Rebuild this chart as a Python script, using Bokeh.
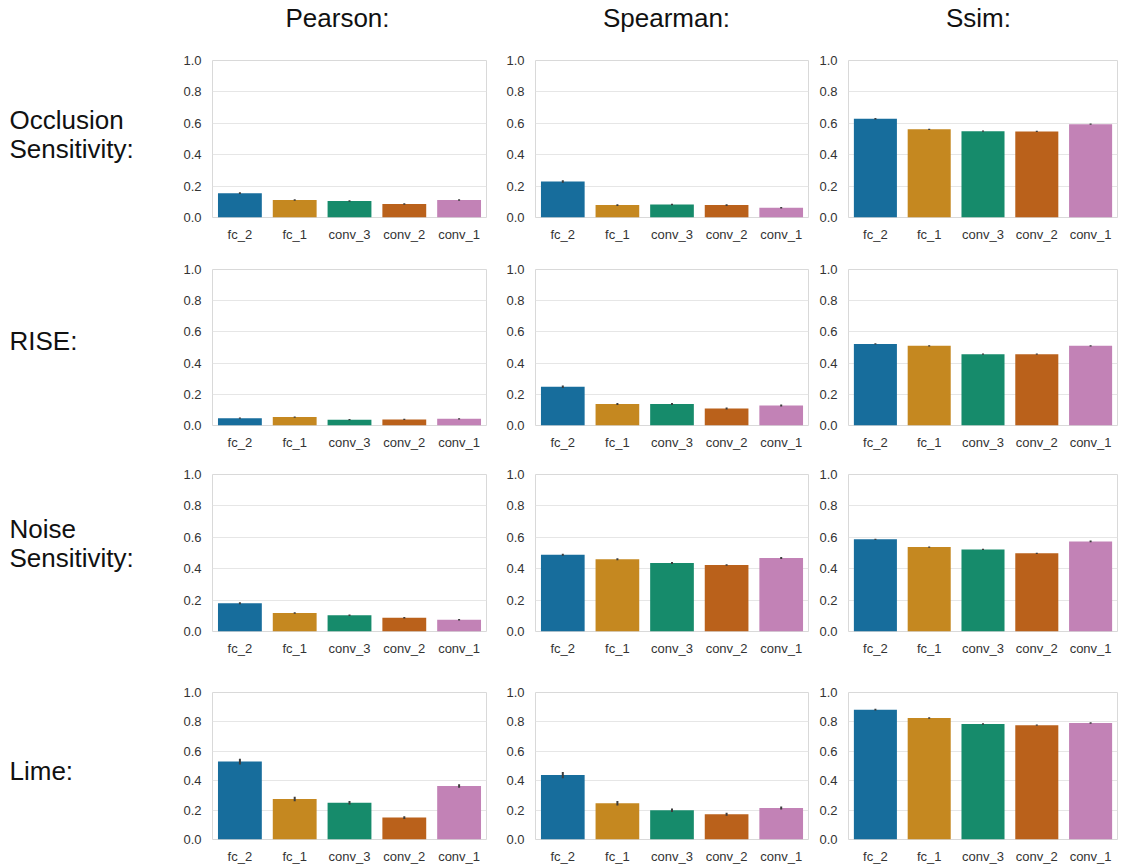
from bokeh.plotting import figure
from bokeh.layouts import row, column
from bokeh.models import FactorRange, Range1d, FixedTicker, PrintfTickFormatter, ColumnDataSource
from bokeh.embed import file_html
from bokeh.resources import INLINE
from bokeh.core.properties import value

# ---------------- data ----------------
layers = ["fc_2", "fc_1", "conv_3", "conv_2", "conv_1"]
metrics = ["Pearson:", "Spearman:", "Ssim:"]
methods = ["Occlusion\nSensitivity:", "RISE:", "Noise\nSensitivity:", "Lime:"]
yticks = [0.0, 0.2, 0.4, 0.6, 0.8, 1.0]
colors = ["#176d9c", "#c58820", "#168b6b", "#ba611b", "#c282b6"]

occ_pearson = [0.155, 0.112, 0.105, 0.086, 0.111]
occ_pearson_err = [0.006, 0.005, 0.005, 0.005, 0.005]
occ_spearman = [0.230, 0.079, 0.083, 0.079, 0.062]
occ_spearman_err = [0.008, 0.005, 0.005, 0.005, 0.005]
occ_ssim = [0.629, 0.562, 0.550, 0.548, 0.594]
occ_ssim_err = [0.004, 0.004, 0.004, 0.004, 0.004]

rise_pearson = [0.047, 0.054, 0.037, 0.039, 0.043]
rise_pearson_err = [0.004, 0.004, 0.004, 0.004, 0.004]
rise_spearman = [0.249, 0.138, 0.138, 0.109, 0.128]
rise_spearman_err = [0.008, 0.006, 0.006, 0.006, 0.007]
rise_ssim = [0.523, 0.511, 0.457, 0.457, 0.511]
rise_ssim_err = [0.004, 0.004, 0.004, 0.004, 0.004]

noise_pearson = [0.180, 0.118, 0.103, 0.088, 0.075]
noise_pearson_err = [0.007, 0.005, 0.005, 0.005, 0.005]
noise_spearman = [0.489, 0.460, 0.436, 0.424, 0.468]
noise_spearman_err = [0.006, 0.006, 0.006, 0.005, 0.006]
noise_ssim = [0.587, 0.538, 0.523, 0.498, 0.574]
noise_ssim_err = [0.004, 0.004, 0.004, 0.004, 0.005]

lime_pearson = [0.530, 0.276, 0.250, 0.149, 0.364]
lime_pearson_err = [0.020, 0.015, 0.012, 0.009, 0.012]
lime_spearman = [0.438, 0.247, 0.199, 0.172, 0.214]
lime_spearman_err = [0.022, 0.015, 0.012, 0.010, 0.010]
lime_ssim = [0.883, 0.826, 0.786, 0.778, 0.792]
lime_ssim_err = [0.006, 0.005, 0.005, 0.004, 0.005]

values = [
    [(occ_pearson, occ_pearson_err), (occ_spearman, occ_spearman_err), (occ_ssim, occ_ssim_err)],
    [(rise_pearson, rise_pearson_err), (rise_spearman, rise_spearman_err), (rise_ssim, rise_ssim_err)],
    [(noise_pearson, noise_pearson_err), (noise_spearman, noise_spearman_err), (noise_ssim, noise_ssim_err)],
    [(lime_pearson, lime_pearson_err), (lime_spearman, lime_spearman_err), (lime_ssim, lime_ssim_err)],
]

# ---------------- layout geometry ----------------
FONT = "Liberation Sans"
LABEL_W = 173
TITLE_H = 50
col_w = [322, 317, 309]
col_bl = [39, 40, 36]
col_br = [9, 4, 4]
row_h = [205, 207, 218, 186]
row_bt = [10, 14, 12, 12]
row_bb = [38, 37, 49, 18]
TOTAL_H = TITLE_H + sum(row_h)

title_x = [337 - LABEL_W, 666 - LABEL_W, 978 - LABEL_W]
title_base = 17
label_base = [[119, 148], [340], [528, 557], [770]]


def text_fig(w, h):
    p = figure(width=w, height=h, x_range=Range1d(0, w), y_range=Range1d(h, 0),
               toolbar_location=None, output_backend="svg", min_border=0,
               x_axis_type=None, y_axis_type=None)
    p.grid.visible = False
    p.outline_line_color = None
    return p


# row labels
lab = text_fig(LABEL_W, TOTAL_H)
lx, ly, lt = [], [], []
for name, bases in zip(methods, label_base):
    for line, b in zip(name.split("\n"), bases):
        lx.append(9)
        ly.append(b)
        lt.append(line)
lab.text(x=lx, y=ly, text=lt, text_font=value(FONT), text_font_size="26px",
         text_color="#111111", text_baseline="alphabetic", text_align="left")

# column titles
tit = text_fig(sum(col_w), TITLE_H)
tit.text(x=title_x, y=[title_base] * 3, text=metrics, text_font=value(FONT),
         text_font_size="26px", text_color="#111111", text_baseline="alphabetic",
         text_align="center")


def bar_fig(i, j):
    vals, errs = values[i][j]
    src = ColumnDataSource(dict(
        x=layers, top=vals,
        lo=[v - e for v, e in zip(vals, errs)],
        hi=[v + e for v, e in zip(vals, errs)],
        color=colors))
    p = figure(width=col_w[j], height=row_h[i], x_range=FactorRange(*layers),
               y_range=Range1d(0, 1), toolbar_location=None, output_backend="svg",
               min_border_left=col_bl[j], min_border_right=col_br[j],
               min_border_top=row_bt[i], min_border_bottom=row_bb[i])
    p.vbar(x="x", top="top", width=0.8, fill_color="color", line_color=None, source=src)
    p.segment(x0="x", y0="lo", x1="x", y1="hi", line_color="#3d3d3d", line_width=2, source=src)
    p.yaxis.ticker = FixedTicker(ticks=yticks)
    p.yaxis.formatter = PrintfTickFormatter(format="%.1f")
    p.xgrid.visible = False
    p.ygrid.grid_line_color = "#e6e6e6"
    p.outline_line_color = "#d9d9d9"
    p.background_fill_color = "white"
    p.border_fill_color = "white"
    for ax in (p.xaxis, p.yaxis):
        ax.axis_line_color = None
        ax.major_tick_line_color = None
        ax.minor_tick_line_color = None
        ax.major_label_text_font = FONT
        ax.major_label_text_font_size = "13px"
        ax.major_label_text_color = "#333333"
    p.yaxis.major_label_standoff = 5
    p.xaxis.major_label_standoff = 3
    return p


rows = [tit]
for i in range(4):
    rows.append(row(*[bar_fig(i, j) for j in range(3)]))

layout = row(lab, column(*rows))

open("out.html", "w").write(file_html(layout, INLINE))
